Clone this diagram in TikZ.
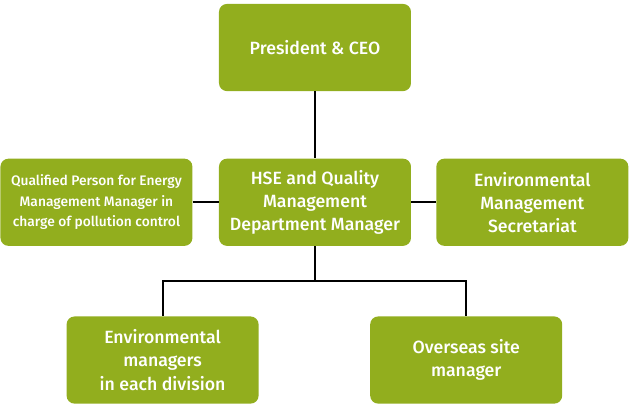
\documentclass[tikz,border=0pt]{standalone}
\usepackage{fontspec}
\setmainfont{Fira Sans}[BoldFont={Fira Sans Medium}]
\definecolor{leaf}{RGB}{146, 174, 30}
\usetikzlibrary{positioning}

\begin{document}
\begin{tikzpicture}[
        node distance=1.7cm and 0.65cm,
        every node/.style={font=\fontsize{12.6}{16.4}\selectfont\bfseries},
        unit/.style={rectangle, rounded corners=0.2cm, fill=leaf, text=white, align=center, minimum width=4.8cm, minimum height=2.18cm, inner sep=2pt},
        small/.style={font=\fontsize{9.8}{14.6}\selectfont\bfseries},
        link/.style={line width=1.4pt, black}
    ]
        \useasboundingbox (-7.875,1.1875) rectangle (7.875,-8.9625);

        \node[unit] (ceo) {President \& CEO};
        \node[unit, below=1.675cm of ceo] (hse) {HSE and Quality\\Management\\Department Manager};
        \node[unit, small, left=0.65cm of hse] (qual) {Qualified Person for Energy\\Management Manager in\\charge of pollution control};
        \node[unit, right=0.62cm of hse] (sec) {Environmental\\Management\\Secretariat};
        \node[unit, below=1.75cm of hse, xshift=-3.81cm] (div) {Environmental\\managers\\in each division};
        \node[unit, below=1.75cm of hse, xshift=3.78cm] (site) {Overseas site\\manager};

        \draw[link] (ceo) -- (hse);
        \draw[link] (qual) -- (hse);
        \draw[link] (hse) -- (sec);
        \draw[link] (hse.south) -- ++(0,-0.875) -| (div.north);
        \draw[link] (hse.south) -- ++(0,-0.875) -| (site.north);
    \end{tikzpicture}
\end{document}
